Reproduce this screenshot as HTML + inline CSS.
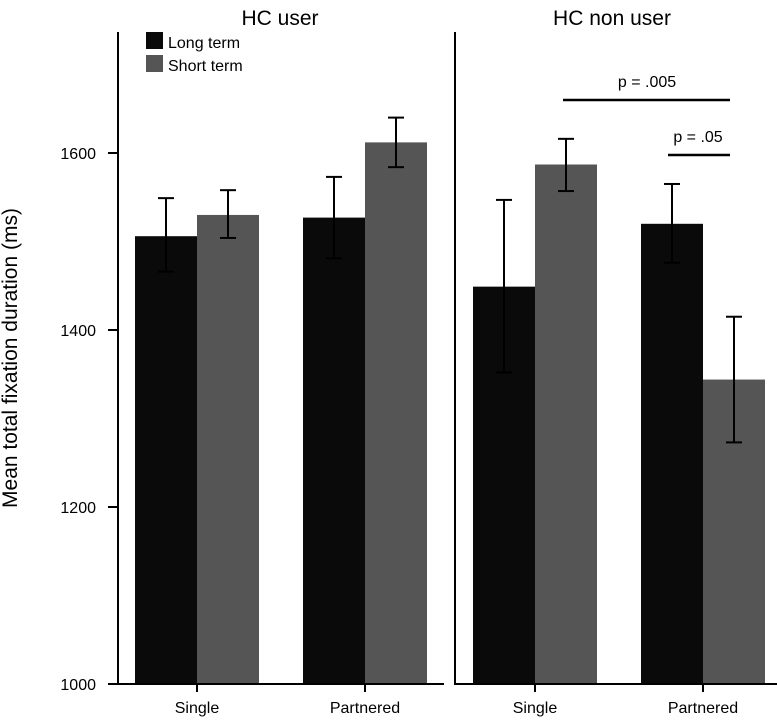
<!DOCTYPE html>
<html><head><meta charset="utf-8"><style>
html,body{margin:0;padding:0;background:#fff}
svg{display:block;font-family:"Liberation Sans",sans-serif}
</style></head><body>
<svg id="chart" width="777" height="720">
<text x="17" y="358" transform="rotate(-90 17 358)" text-anchor="middle" font-size="21">Mean total fixation duration (ms)</text>
<text x="280" y="25" text-anchor="middle" font-size="21">HC user</text>
<text x="612" y="25" text-anchor="middle" font-size="21">HC non user</text>
<g id="legend">
<rect x="146" y="32" width="17" height="17" fill="#0a0a0a"/>
<text x="168" y="48" font-size="16">Long term</text>
<rect x="146" y="55" width="17" height="17" fill="#555"/>
<text x="168" y="71" font-size="16">Short term</text>
</g>
<g id="marks"></g>
<g id="axes"></g>
<g>
<line x1="563" y1="100" x2="730" y2="100" stroke="#000" stroke-width="2.5"/>
<text x="647" y="87" text-anchor="middle" font-size="16">p = .005</text>
<line x1="668" y1="155" x2="730" y2="155" stroke="#000" stroke-width="2.5"/>
<text x="698" y="142" text-anchor="middle" font-size="16">p = .05</text>
</g>
</svg>
<script>
const panels = ["HC user", "HC non user"];
const categories = ["Single", "Partnered"];
const longTerm = [[1506, 1527], [1449, 1520]];
const shortTerm = [[1530, 1612], [1587, 1344]];
const longErrLo = [[1466, 1481], [1352, 1476]];
const longErrHi = [[1549, 1573], [1547, 1565]];
const shortErrLo = [[1504, 1584], [1557, 1273]];
const shortErrHi = [[1558, 1640], [1616, 1415]];
const yTicks = [1000, 1200, 1400, 1600];

const NS = "http://www.w3.org/2000/svg";
function y(v){ return 684 - (v - 1000) * 0.885; }
const panelX = [118, 455];
const panelEnd = [444, 777];
const groupStart = [[135, 303], [473, 641]];
const barW = 62;
const marks = document.getElementById("marks");
const axes = document.getElementById("axes");
function mk(tag, attrs, parent){ const e = document.createElementNS(NS, tag); for (const k in attrs) e.setAttribute(k, attrs[k]); parent.appendChild(e); return e; }

panels.forEach((p, pi) => {
  categories.forEach((c, ci) => {
    const x0 = groupStart[pi][ci];
    [[longTerm, longErrLo, longErrHi, "#0a0a0a", "long"], [shortTerm, shortErrLo, shortErrHi, "#555", "short"]].forEach((s, si) => {
      const v = s[0][pi][ci];
      const bx = x0 + si * barW;
      const r = mk("rect", {x: bx, y: y(v), width: barW, height: y(1000) - y(v), fill: s[3]}, marks);
      
      
      const cx = bx + barW / 2;
      const g = mk("g", {stroke: "#000", "stroke-width": 2}, marks);
      
      
      mk("line", {x1: cx, x2: cx, y1: y(s[1][pi][ci]), y2: y(s[2][pi][ci])}, g);
      mk("line", {x1: cx - 8, x2: cx + 8, y1: y(s[1][pi][ci]), y2: y(s[1][pi][ci])}, g);
      mk("line", {x1: cx - 8, x2: cx + 8, y1: y(s[2][pi][ci]), y2: y(s[2][pi][ci])}, g);
    });
    const tx = x0 + barW;
    const t = mk("line", {x1: tx, x2: tx, y1: 684, y2: 692, stroke: "#000", "stroke-width": 2}, axes);
    
    
    const lbl = mk("text", {x: tx, y: 713, "text-anchor": "middle", "font-size": 16}, axes);
    lbl.textContent = c;
    
    
  });
  const ax = mk("line", {x1: panelX[pi], x2: panelX[pi], y1: 32, y2: 685, stroke: "#000", "stroke-width": 2}, axes);
  
  
  const bx = mk("line", {x1: pi === 0 ? 108 : panelX[pi], x2: panelEnd[pi], y1: 684, y2: 684, stroke: "#000", "stroke-width": 2}, axes);
  
  
});
yTicks.forEach(v => {
  const t = mk("line", {x1: 108, x2: 118, y1: y(v), y2: y(v), stroke: "#000", "stroke-width": 2}, axes);
  
  
  const l = mk("text", {x: 96, y: y(v) + 6, "text-anchor": "end", "font-size": 16}, axes);
  l.textContent = v;
  
  
});
</script>
</body></html>
